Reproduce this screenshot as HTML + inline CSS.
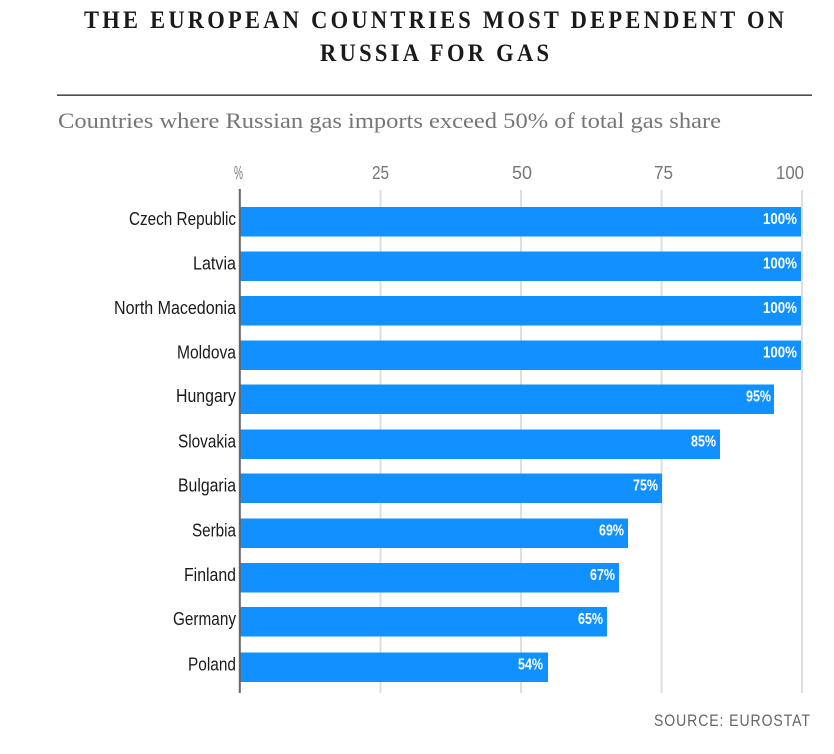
<!DOCTYPE html>
<html>
<head>
<meta charset="utf-8">
<style>
html,body{margin:0;padding:0;background:#fff;}
svg{display:block;}
</style>
</head>
<body>
<svg width="834" height="754" viewBox="0 0 834 754" xmlns="http://www.w3.org/2000/svg">
  <!-- Title -->
  <g font-family="Liberation Serif, serif" font-weight="bold" font-size="25" fill="#1a1a1a" transform="scale(0.9,1)">
    <text x="93.3" y="28" textLength="777.8" lengthAdjust="spacing">THE EUROPEAN COUNTRIES MOST DEPENDENT ON</text>
    <text x="355.6" y="61" textLength="254.4" lengthAdjust="spacing">RUSSIA FOR GAS</text>
  </g>
  <rect x="57" y="94.5" width="755" height="1.3" fill="#222"/>
  <text x="58" y="128" font-family="Liberation Serif, serif" font-size="22" fill="#767676" textLength="663" lengthAdjust="spacingAndGlyphs">Countries where Russian gas imports exceed 50% of total gas share</text>

  <!-- tick labels -->
  <g font-family="Liberation Sans, sans-serif" font-size="18" fill="#777">
    <text x="234" y="179" textLength="9" lengthAdjust="spacingAndGlyphs">%</text>
    <text x="372" y="179" textLength="17" lengthAdjust="spacingAndGlyphs">25</text>
    <text x="512" y="179" textLength="20" lengthAdjust="spacingAndGlyphs">50</text>
    <text x="654" y="179" textLength="19" lengthAdjust="spacingAndGlyphs">75</text>
    <text x="776" y="179" textLength="28" lengthAdjust="spacingAndGlyphs">100</text>
  </g>

  <!-- gridlines -->
  <g fill="#dedede">
    <rect x="379.5" y="190" width="2" height="503"/>
    <rect x="520" y="190" width="2" height="503"/>
    <rect x="660.5" y="190" width="2" height="503"/>
    <rect x="801" y="190" width="2" height="503"/>
  </g>

  <!-- bars -->
  <g fill="#1190ff">
    <rect x="240" y="207" width="561" height="29.5"/>
    <rect x="240" y="251.5" width="561" height="29.5"/>
    <rect x="240" y="296" width="561" height="29.5"/>
    <rect x="240" y="340.5" width="561" height="29.5"/>
    <rect x="240" y="384.5" width="534" height="29.5"/>
    <rect x="240" y="429.5" width="480" height="29.5"/>
    <rect x="240" y="473.5" width="422" height="29.5"/>
    <rect x="240" y="518.5" width="388" height="29.5"/>
    <rect x="240" y="563" width="379" height="29.5"/>
    <rect x="240" y="607" width="367" height="29.5"/>
    <rect x="240" y="652.5" width="308" height="29.5"/>
  </g>

  <!-- axis -->
  <rect x="238.8" y="189" width="2" height="504" fill="#666"/>

  <!-- value labels -->
  <g font-family="Liberation Sans, sans-serif" font-weight="bold" font-size="15.5" fill="#fff">
    <text x="763" y="224" textLength="34" lengthAdjust="spacingAndGlyphs">100%</text>
    <text x="763" y="268.5" textLength="34" lengthAdjust="spacingAndGlyphs">100%</text>
    <text x="763" y="313" textLength="34" lengthAdjust="spacingAndGlyphs">100%</text>
    <text x="763" y="357.5" textLength="34" lengthAdjust="spacingAndGlyphs">100%</text>
    <text x="746" y="401.5" textLength="25" lengthAdjust="spacingAndGlyphs">95%</text>
    <text x="691" y="446.5" textLength="25" lengthAdjust="spacingAndGlyphs">85%</text>
    <text x="633" y="490.5" textLength="25" lengthAdjust="spacingAndGlyphs">75%</text>
    <text x="599" y="535.5" textLength="25" lengthAdjust="spacingAndGlyphs">69%</text>
    <text x="590" y="580" textLength="25" lengthAdjust="spacingAndGlyphs">67%</text>
    <text x="578" y="624" textLength="25" lengthAdjust="spacingAndGlyphs">65%</text>
    <text x="518" y="669.5" textLength="25" lengthAdjust="spacingAndGlyphs">54%</text>
  </g>

  <!-- country labels -->
  <g font-family="Liberation Sans, sans-serif" font-size="18" fill="#1a1a1a">
    <text x="129" y="225" textLength="107" lengthAdjust="spacingAndGlyphs">Czech Republic</text>
    <text x="193" y="269.5" textLength="43" lengthAdjust="spacingAndGlyphs">Latvia</text>
    <text x="114" y="314" textLength="122" lengthAdjust="spacingAndGlyphs">North Macedonia</text>
    <text x="177" y="358.5" textLength="59" lengthAdjust="spacingAndGlyphs">Moldova</text>
    <text x="176" y="402" textLength="60" lengthAdjust="spacingAndGlyphs">Hungary</text>
    <text x="178" y="447.5" textLength="58" lengthAdjust="spacingAndGlyphs">Slovakia</text>
    <text x="178" y="491.5" textLength="58" lengthAdjust="spacingAndGlyphs">Bulgaria</text>
    <text x="192" y="536.5" textLength="44" lengthAdjust="spacingAndGlyphs">Serbia</text>
    <text x="184" y="581" textLength="52" lengthAdjust="spacingAndGlyphs">Finland</text>
    <text x="173" y="625" textLength="63" lengthAdjust="spacingAndGlyphs">Germany</text>
    <text x="188" y="670.5" textLength="48" lengthAdjust="spacingAndGlyphs">Poland</text>
  </g>

  <!-- source -->
  <g transform="scale(0.85,1)">
    <text x="769.4" y="726" font-family="Liberation Sans, sans-serif" font-size="16.5" fill="#666" textLength="183.5" lengthAdjust="spacing">SOURCE: EUROSTAT</text>
  </g>
</svg>
</body>
</html>
